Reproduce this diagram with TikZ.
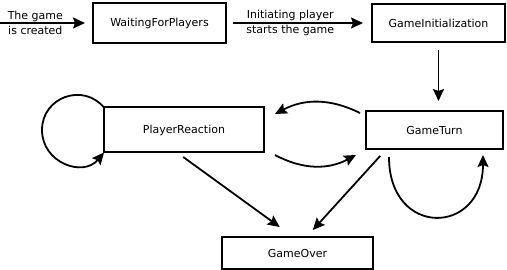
\documentclass[tikz,border=0pt]{standalone}
\usepackage{fontspec}
\setmainfont{DejaVu Sans}
\usetikzlibrary{arrows.meta,positioning,calc}
\tikzset{
  state_box/.style={draw=black,line width=2pt,outer sep=0pt,inner sep=2pt,
    font=\fontsize{11}{15}\selectfont,align=center},
  edge_lbl/.style={font=\fontsize{11}{15}\selectfont,align=center,inner sep=0pt},
  arr/.style={-{Stealth[length=12pt,width=11pt,inset=2pt]},draw=black,line width=1.8pt},
}

\begin{document}
\begin{tikzpicture}[x=1pt,y=1pt]
  \useasboundingbox (0,0) rectangle (507,-270);
  \node[state_box,minimum width=133pt,minimum height=40pt] (wait) at (159.5,-23) {WaitingForPlayers};
  \node[state_box,minimum width=133pt,minimum height=38pt,right=146pt of wait] (init) {GameInitialization};
  \node[state_box,minimum width=137pt,minimum height=38pt,below=69pt of init,xshift=-4pt] (turn) {GameTurn};
  \node[state_box,minimum width=160pt,minimum height=45pt,left=102pt of turn] (reaction) {PlayerReaction};
  \node[state_box,minimum width=151pt,minimum height=32pt,below=84.5pt of reaction,xshift=113.5pt] (over) {GameOver};
  \coordinate (start) at (0,-23);
  \coordinate (loopleft) at ($(reaction.west)+(-62pt,0)$);

  % entry and setup
  \draw[arr,shorten >=8pt] (start) -- (wait) node[edge_lbl,pos=0.38] {The game\\is created};
  \draw[arr,shorten <=7pt,shorten >=9pt] (wait) -- (init) node[edge_lbl,pos=0.44] {Initiating player\\starts the game};
  \draw[arr,shorten <=8pt,shorten >=10pt] (init.south) -- (init.south |- turn.north);

  % turn <-> reaction
  \draw[arr] ($(turn.north west)+(-6pt,-2pt)$) to[bend right=27] ($(reaction.north east)+(11pt,-6.5pt)$);
  \draw[arr] ($(reaction.south east)+(11pt,-2.5pt)$) to[bend right=28] ($(turn.south west)+(-10pt,-6pt)$);
  \draw[arr] (reaction.north west) to[out=130,in=90,looseness=1.27] (loopleft)
    to[out=270,in=230,looseness=1.27] (reaction.south west);
  \draw[arr] ($(turn.south west)+(23pt,-8pt)$) to[out=-90,in=-90,looseness=2.2] ($(turn.south east)+(-20pt,-6pt)$);

  % game over
  \draw[arr,shorten <=7.7pt,shorten >=17pt] ([xshift=-7pt]reaction.south) -- ([xshift=-4pt]over.north);
  \draw[arr,shorten <=9.4pt,shorten >=9.4pt] ([xshift=-48pt]turn.south) -- ([xshift=9pt]over.north);
\end{tikzpicture}
\end{document}
